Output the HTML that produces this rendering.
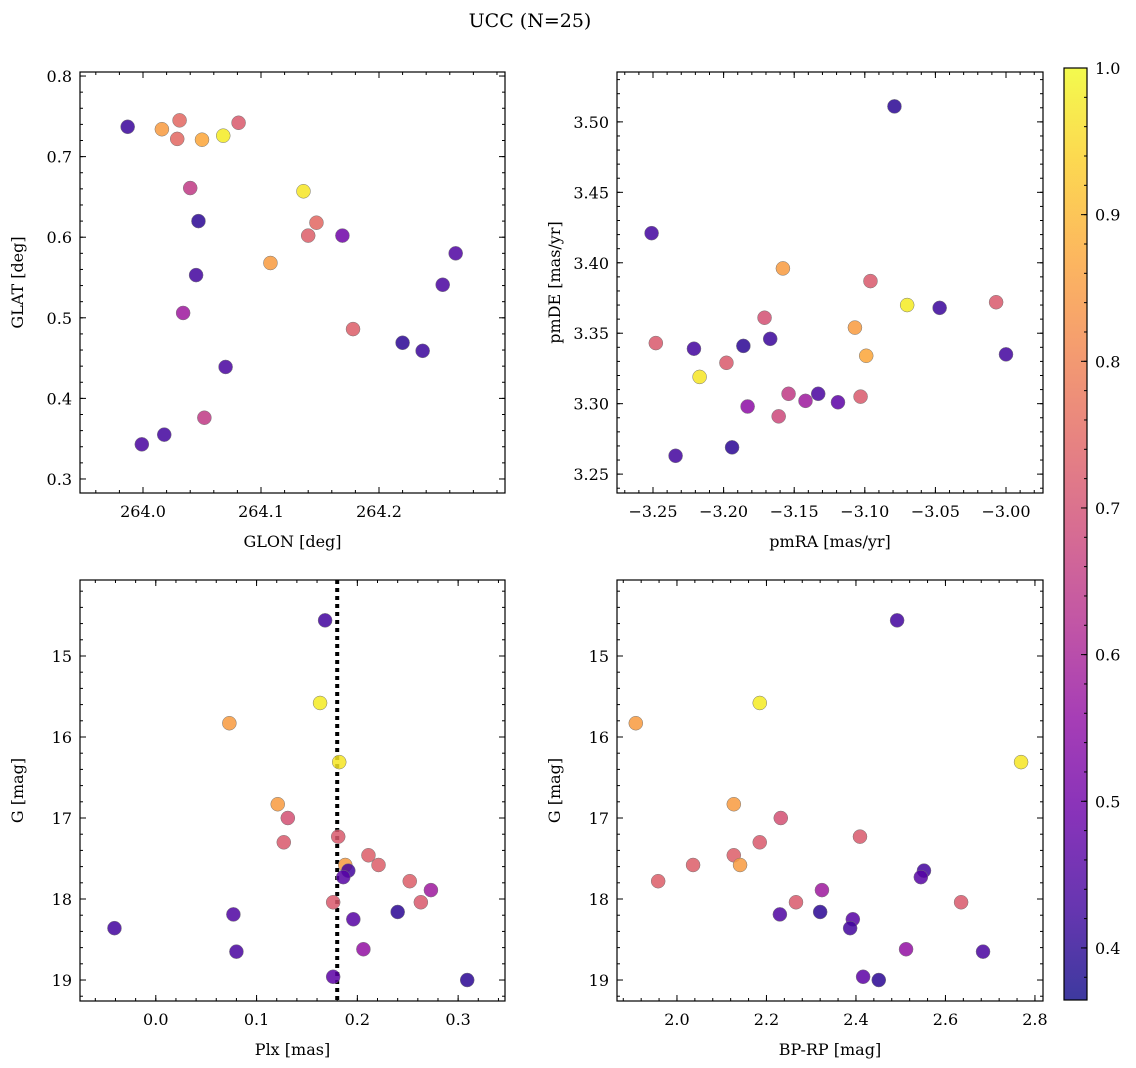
<!DOCTYPE html>
<html><head><meta charset="utf-8"><style>
body{margin:0;background:#fff;}
svg{display:block;font-family:"DejaVu Serif","Liberation Serif",serif;}
</style></head><body>
<svg id="fig" width="1136" height="1068" viewBox="0 0 1136 1068">
<defs><linearGradient id="cbg" x1="0" y1="1" x2="0" y2="0"></linearGradient></defs>
<text x="530" y="27" text-anchor="middle" font-size="19">UCC (N=25)</text>
</svg>
<script>
// ---- data ----
const tlGlon=[263.987,264.016,264.031,264.029,264.050,264.068,264.081,264.040,264.047,264.136,264.147,264.140,264.169,264.265,264.045,264.108,264.254,264.034,264.178,264.220,264.237,264.070,264.052,264.018,263.999];
const tlGlat=[0.737,0.734,0.745,0.722,0.721,0.726,0.742,0.661,0.620,0.657,0.618,0.602,0.602,0.580,0.553,0.568,0.541,0.506,0.486,0.469,0.459,0.439,0.376,0.355,0.343];
const tlProb=[0.42,0.85,0.75,0.75,0.87,0.98,0.72,0.65,0.40,0.97,0.75,0.73,0.50,0.45,0.43,0.85,0.44,0.58,0.73,0.40,0.42,0.44,0.65,0.43,0.44];
const trPmra=[-3.079,-3.251,-3.096,-3.158,-3.070,-3.047,-3.007,-3.248,-3.221,-3.186,-3.171,-3.167,-3.107,-3.099,-3.000,-3.217,-3.198,-3.154,-3.142,-3.133,-3.119,-3.103,-3.161,-3.183,-3.194,-3.234];
const trPmde=[3.511,3.421,3.387,3.396,3.370,3.368,3.372,3.343,3.339,3.341,3.361,3.346,3.354,3.334,3.335,3.319,3.329,3.307,3.302,3.307,3.301,3.305,3.291,3.298,3.269,3.263];
const trProb=[0.40,0.43,0.72,0.85,0.98,0.42,0.72,0.72,0.43,0.40,0.70,0.42,0.85,0.87,0.43,0.97,0.72,0.65,0.58,0.44,0.47,0.72,0.68,0.55,0.40,0.43];
const blPlx=[0.168,0.163,0.073,0.182,0.121,0.131,0.127,0.181,0.211,0.188,0.221,0.191,0.186,0.252,0.273,0.176,0.263,0.077,0.240,0.196,-0.041,0.206,0.080,0.176,0.309];
const gMag=[14.56,15.58,15.83,16.31,16.83,17.0,17.30,17.23,17.46,17.58,17.58,17.65,17.73,17.78,17.89,18.04,18.04,18.19,18.16,18.25,18.36,18.62,18.65,18.96,19.0];
const brBprp=[2.492,2.185,1.908,2.769,2.127,2.232,2.185,2.409,2.127,2.141,2.036,2.552,2.545,1.958,2.324,2.266,2.635,2.230,2.320,2.393,2.387,2.512,2.684,2.416,2.451];
const gProb=[0.43,0.98,0.85,0.97,0.85,0.70,0.72,0.72,0.73,0.85,0.73,0.43,0.46,0.73,0.58,0.72,0.72,0.45,0.40,0.46,0.43,0.56,0.44,0.47,0.40];
const plxLine=0.18;
const cbTicks=[0.4,0.5,0.6,0.7,0.8,0.9,1.0];

const NS="http://www.w3.org/2000/svg";
const svg=document.getElementById('fig');
function mk(t,a,p){const e=document.createElementNS(NS,t);for(const k in a)e.setAttribute(k,a[k]);(p||svg).appendChild(e);return e;}
const stops=[[0,'#0d0887'],[0.1,'#41049d'],[0.2,'#6a00a8'],[0.3,'#8f0da4'],[0.4,'#b12a90'],[0.5,'#cc4778'],[0.6,'#e16462'],[0.7,'#f2844b'],[0.8,'#fca636'],[0.9,'#fcce25'],[1,'#f0f921']];
const vmin=0.3645,vmax=1.0;
function hex(h){return [1,3,5].map(i=>parseInt(h.substr(i,2),16));}
function plasma(v){let t=Math.max(0,Math.min(1,(v-vmin)/(vmax-vmin)));
 for(let i=0;i<stops.length-1;i++){if(t<=stops[i+1][0]){const f=(t-stops[i][0])/(stops[i+1][0]-stops[i][0]);const a=hex(stops[i][1]),b=hex(stops[i+1][1]);return 'rgb('+a.map((x,j)=>Math.round(x+(b[j]-x)*f)).join(',')+')';}}
 return stops[stops.length-1][1];}
const grad=document.getElementById('cbg');
stops.forEach(s=>{mk('stop',{offset:s[0],'stop-color':s[1]},grad);});

function fmt(v,d){let s=v.toFixed(d);return s.replace('-','\u2212');}
function panel(name,L,T,R,B,xr,yr,xt,xmin,yt,ymin,xd,yd,xlab,ylab){
 const g=mk('g',{});
 
 
 const sx=v=>L+(v-xr[0])/(xr[1]-xr[0])*(R-L);
 const sy=v=>B-(v-yr[0])/(yr[1]-yr[0])*(B-T);
 const tk=mk('g',{stroke:'#000','stroke-width':1},g);
 
 
 function xt_(v,len){const x=sx(v);if(x<L-0.5||x>R+0.5)return;mk('line',{x1:x,x2:x,y1:B,y2:B-len},tk);mk('line',{x1:x,x2:x,y1:T,y2:T+len},tk);}
 function yt_(v,len){const y=sy(v);if(y<T-0.5||y>B+0.5)return;mk('line',{x1:L,x2:L+len,y1:y,y2:y},tk);mk('line',{x1:R,x2:R-len,y1:y,y2:y},tk);}
 for(let v=Math.ceil(xr[0]/xmin)*xmin;v<=xr[1];v+=xmin)xt_(v,3);
 for(let v=Math.ceil(yr[0]/ymin)*ymin;v<=yr[1];v+=ymin)yt_(v,3);
 xt.forEach(v=>{xt_(v,6);const t=mk('text',{x:sx(v),y:B+24,'text-anchor':'middle','font-size':16},g);t.textContent=fmt(v,xd);
  });
 yt.forEach(v=>{yt_(v,6);const t=mk('text',{x:L-8,y:sy(v)+6,'text-anchor':'end','font-size':16},g);t.textContent=fmt(v,yd);
  });
 const xl=mk('text',{x:(L+R)/2,y:B+54,'text-anchor':'middle','font-size':16},g);xl.textContent=xlab;
 
 const yl=mk('text',{x:0,y:0,'text-anchor':'middle','font-size':16,transform:`translate(${L-57},${(T+B)/2}) rotate(-90)`},g);yl.textContent=ylab;
 
 const fr=mk('rect',{x:L,y:T,width:R-L,height:B-T,fill:'none',stroke:'#000','stroke-width':1.2},g);
 
 return {g,sx,sy};
}
function scatter(p,xs,ys,cs,name){
 xs.forEach((x,i)=>{const c=mk('circle',{cx:p.sx(x),cy:p.sy(ys[i]),r:7,fill:plasma(cs[i]),'fill-opacity':0.85,stroke:'#777','stroke-width':0.5},p.g);
  
  });
}
const p1=panel('glon-glat-panel',80,72,505,493,[263.9466,264.3068],[0.2826,0.805],[264.0,264.1,264.2],0.02,[0.3,0.4,0.5,0.6,0.7,0.8],0.02,1,1,'GLON [deg]','GLAT [deg]');
scatter(p1,tlGlon,tlGlat,tlProb,'star-point');
const p2=panel('pm-panel',617,72,1043,493,[-3.2755,-2.9738],[3.2366,3.5354],[-3.25,-3.2,-3.15,-3.1,-3.05,-3.0],0.01,[3.25,3.3,3.35,3.4,3.45,3.5],0.01,2,2,'pmRA [mas/yr]','pmDE [mas/yr]');
scatter(p2,trPmra,trPmde,trProb,'star-point');
const p3=panel('plx-g-panel',80,580,505,1001,[-0.0752,0.3465],[-19.259,-14.062],[0.0,0.1,0.2,0.3],0.02,[],0.2,1,0,'Plx [mas]','G [mag]');
const p4=panel('color-mag-panel',617,580,1043,1001,[1.866,2.818],[-19.259,-14.062],[2.0,2.2,2.4,2.6,2.8],0.04,[],0.2,1,0,'BP-RP [mag]','G [mag]');
// inverted y for G: add labels manually
[p3,p4].forEach(p=>{[15,16,17,18,19].forEach(v=>{const y=p.sy(-v);const L=p.sx===p3.sx?80:617,R=L===80?505:1043;
 mk('line',{x1:L,x2:L+6,y1:y,y2:y,stroke:'#000'},p.g);mk('line',{x1:R,x2:R-6,y1:y,y2:y,stroke:'#000'},p.g);
 const t=mk('text',{x:L-8,y:y+6,'text-anchor':'end','font-size':16},p.g);t.textContent=String(v);
 });});
const lx=p3.sx(plxLine);
const dl=mk('line',{x1:lx,x2:lx,y1:580,y2:1001,stroke:'#000','stroke-width':4,'stroke-dasharray':'4 4'},p3.g);

scatter(p3,blPlx,gMag.map(v=>-v),gProb,'star-point');
scatter(p4,brBprp,gMag.map(v=>-v),gProb,'star-point');
// colorbar
const cb=mk('g',{});


const cT=68,cB=1000,cL=1064,cR=1087;
mk('rect',{x:cL,y:cT,width:cR-cL,height:cB-cT,fill:'url(#cbg)','fill-opacity':0.8},cb);
mk('rect',{x:cL,y:cT,width:cR-cL,height:cB-cT,fill:'none',stroke:'#000','stroke-width':1.2},cb);
const cy=v=>cB-(v-vmin)/(vmax-vmin)*(cB-cT);
for(let v=0.38;v<=1.0001;v+=0.02)mk('line',{x1:cR,x2:cR-3,y1:cy(v),y2:cy(v),stroke:'#000'},cb);
cbTicks.forEach(v=>{mk('line',{x1:cR,x2:cR-6,y1:cy(v),y2:cy(v),stroke:'#000'},cb);
 const t=mk('text',{x:cR+8,y:cy(v)+6,'font-size':16},cb);t.textContent=v.toFixed(1);
 });
</script>
</body></html>
